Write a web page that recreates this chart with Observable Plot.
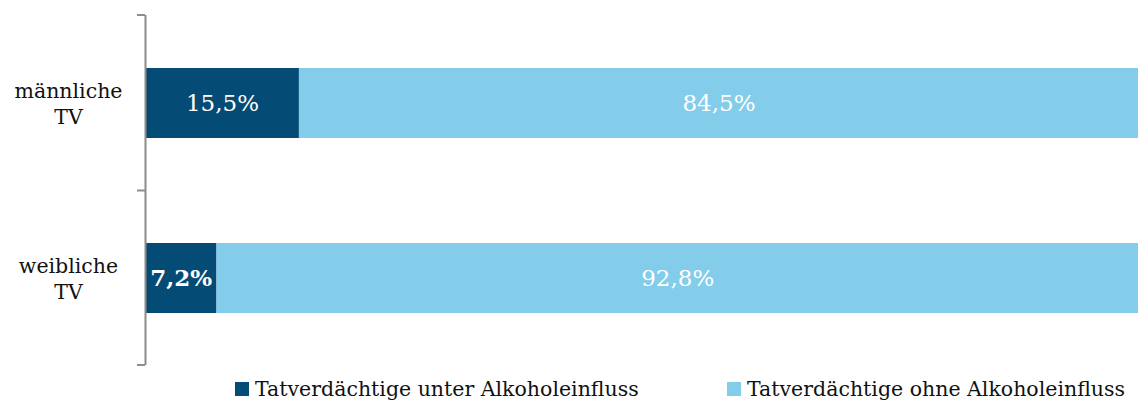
<!DOCTYPE html>
<html><head><meta charset="utf-8">
<script src="https://cdn.jsdelivr.net/npm/d3@7"></script>
<script src="https://cdn.jsdelivr.net/npm/@observablehq/plot@0.6"></script>
<style>
body{margin:0;background:#fff;}
#chart{width:1138px;}
.legend{font-family:"DejaVu Serif",serif;font-size:20.5px;color:#111;height:28px;}
.legend .item{display:flex;align-items:center;position:absolute;top:2px;}
.legend .sw{width:14px;height:14px;margin-right:6px;}
</style></head>
<body><div id="chart"></div>
<script>
const categories = ["männliche TV", "weibliche TV"];
const seriesNames = ["Tatverdächtige unter Alkoholeinfluss", "Tatverdächtige ohne Alkoholeinfluss"];
const unterValues = [15.5, 7.2];
const ohneValues = [84.5, 92.8];
const colors = ["#044b75", "#83cdeb"];

const data = [];
categories.forEach((c, i) => {
  data.push({category: c, series: seriesNames[0], value: unterValues[i]});
  data.push({category: c, series: seriesNames[1], value: ohneValues[i]});
});
const fmt = v => v.toFixed(1).replace(".", ",") + "%";
const font = "DejaVu Serif";
const isBold = d => d.series === seriesNames[0] && d.value < 10;

const plot = Plot.plot({
  width: 1138,
  height: 375,
  marginLeft: 145,
  marginRight: 0,
  marginTop: 15,
  marginBottom: 10,
  style: {fontFamily: font, background: "#fff"},
  x: {domain: [0, 100], axis: null},
  y: {domain: categories, paddingInner: 0.6, paddingOuter: 0.3, label: null},
  color: {domain: seriesNames, range: colors},
  marks: [
    Plot.barX(data, Plot.stackX({x: "value", y: "category", fill: "series", order: seriesNames, inset: 0})),
    Plot.text(data, Plot.filter(d => !isBold(d), Plot.stackX({x: "value", y: "category", z: "series", order: seriesNames,
      text: d => fmt(d.value), fill: "white", fontSize: 23}))),
    Plot.text(data, Plot.filter(isBold, Plot.stackX({x: "value", y: "category", z: "series", order: seriesNames,
      text: d => fmt(d.value), fill: "white", fontSize: 23, fontWeight: "bold"}))),
    Plot.ruleX([0], {stroke: "#8c8c8c", strokeWidth: 2}),
    Plot.axisY({tickSize: 0, tickPadding: 77, textAnchor: "middle", fontSize: 20.5, lineHeight: 1.3, dy: -1,
      tickFormat: d => d.replace(" ", "\n"), fill: "#111", label: null})
  ]
});
document.getElementById("chart").appendChild(plot);

// band boundary ticks from the library's y scale
const ys = plot.scale("y");
const [r0, r1] = ys.range;
const yb = categories.map(c => ys.apply(c));
const bounds = [r0, (yb[0] + ys.bandwidth + yb[1]) / 2, r1];
const xs = plot.scale("x");
const x0 = xs.apply(0);
d3.select(plot).append("g").selectAll("line").data(bounds).join("line")
  .attr("x1", x0 - 8).attr("x2", x0).attr("y1", d => d).attr("y2", d => d)
  .attr("stroke", "#8c8c8c").attr("stroke-width", 2);

// legend
const leg = d3.select("body").append("div").attr("class", "legend").style("position", "relative");
const legX = [235, 727];
seriesNames.forEach((s, i) => {
  const it = leg.append("div").attr("class", "item").style("left", legX[i] + "px");
  it.append("div").attr("class", "sw").style("background", colors[i]);
  it.append("span").text(s);
});
</script></body></html>
